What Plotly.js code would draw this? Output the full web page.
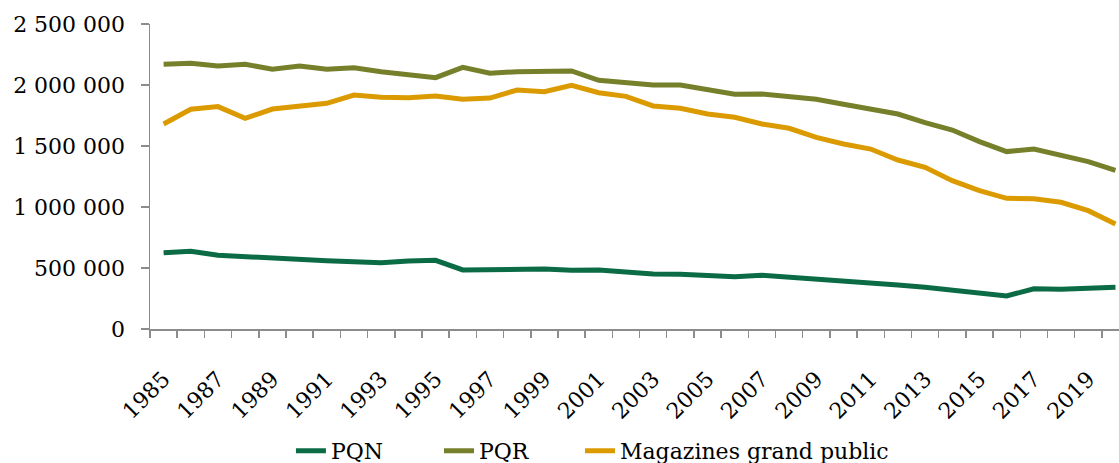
<!DOCTYPE html>
<html>
<head>
<meta charset="utf-8">
<script src="https://cdn.plot.ly/plotly-3.0.1.min.js"></script>
<style>html,body{margin:0;padding:0;background:#fff;}#chart{width:1119px;height:463px;}</style>
</head>
<body>
<div id="chart"></div>
<script>
const years = [1985,1986,1987,1988,1989,1990,1991,1992,1993,1994,1995,1996,1997,1998,1999,2000,2001,2002,2003,2004,2005,2006,2007,2008,2009,2010,2011,2012,2013,2014,2015,2016,2017,2018,2019,2020];
const pqn = [625000,637000,604000,593000,574000,566000,560000,552000,544000,557000,563000,484000,484000,489000,492000,481000,483000,468000,451000,448000,443000,429000,440000,426000,407000,393000,380000,361000,342000,320000,301000,271000,330000,325000,334000,342000];
const pqr = [2170000,2178000,2156000,2170000,2129000,2156000,2129000,2142000,2109000,2085000,2060000,2145000,2096000,2109000,2112000,2115000,2038000,2016000,2000000,2000000,1965000,1924000,1926000,1904000,1883000,1842000,1801000,1762000,1691000,1631000,1536000,1454000,1475000,1424000,1372000,1301000];
const mag = [1680000,1801000,1823000,1727000,1803000,1823000,1850000,1918000,1899000,1896000,1910000,1883000,1893000,1959000,1945000,1997000,1937000,1907000,1828000,1809000,1762000,1735000,1680000,1645000,1571000,1516000,1475000,1385000,1325000,1216000,1134000,1071000,1068000,1039000,970000,861000];
const seriesNames = ['PQN','PQR','Magazines grand public'];
const tickYears = [1985,1987,1989,1991,1993,1995,1997,1999,2001,2003,2005,2007,2009,2011,2013,2015,2017,2019];

const colors = ['#0a6b45','#767f2a','#db9b00'];
const font = {family: '"DejaVu Serif", serif', size: 22, color: '#000'};
const axisGray = '#8c8c8c';
const legendIds = ['legend','legend2','legend3'];

const traces = [pqn, pqr, mag].map((vals, i) => ({
  x: years, y: vals, name: seriesNames[i], type: 'scatter', mode: 'lines',
  line: {color: colors[i], width: 5}, legend: legendIds[i]
}));

function leg(xc) {
  return {orientation: 'h', xref: 'container', yref: 'container', x: xc, xanchor: 'left',
          y: 0.026, yanchor: 'middle', font: font, bgcolor: 'rgba(0,0,0,0)'};
}

const layout = {
  width: 1119, height: 463,
  margin: {l: 150, r: 0, t: 24, b: 134, autoexpand: false},
  paper_bgcolor: '#fff', plot_bgcolor: '#fff',
  font: font,
  separators: ', ',
  showlegend: true,
  legend: leg(0.2600),
  legend2: leg(0.3923),
  legend3: leg(0.5183),
  xaxis: {
    range: [1984.5, 2020.13], showgrid: false, zeroline: false, automargin: false,
    showline: true, linecolor: axisGray, linewidth: 1.5,
    tickmode: 'array', tickvals: tickYears, ticktext: tickYears.map(String),
    ticks: 'outside', ticklen: 7, tickcolor: 'rgba(0,0,0,0)', tickangle: -45,
    ticklabelstandoff: 20,
    tickfont: font,
    minor: {tickmode: 'linear', tick0: 1984.5, dtick: 1, ticks: 'outside', ticklen: 7, tickcolor: axisGray, tickwidth: 1.5, showgrid: false}
  },
  yaxis: {
    range: [0, 2500000], dtick: 500000, tick0: 0, showgrid: false, zeroline: false, automargin: false,
    showline: true, linecolor: axisGray, linewidth: 1.5,
    ticks: 'outside', ticklen: 8, tickcolor: axisGray, tickwidth: 1.5,
    ticklabelstandoff: 11,
    tickformat: ',d', tickfont: font
  }
};

Plotly.newPlot('chart', traces, layout, {displayModeBar: false, staticPlot: true});
</script>
</body>
</html>
